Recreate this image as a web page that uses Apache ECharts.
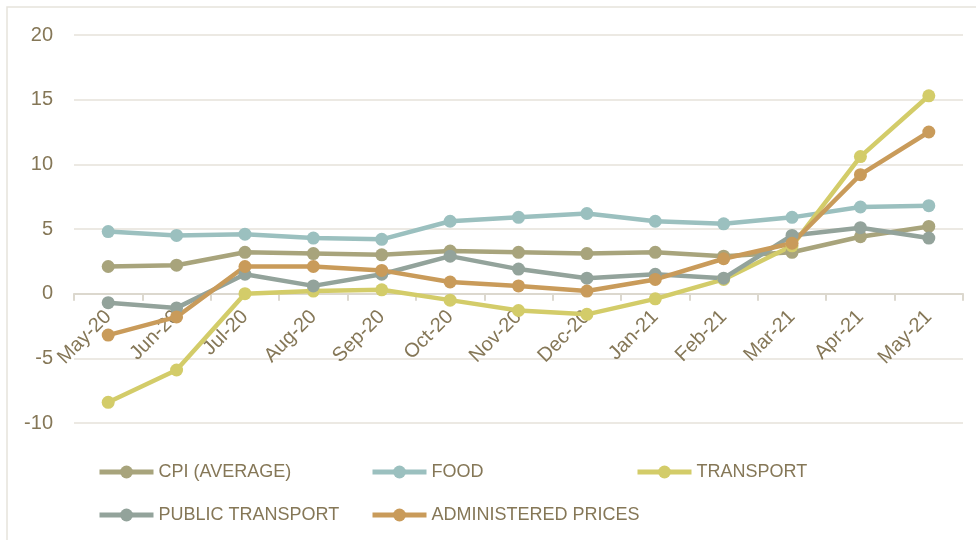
<!DOCTYPE html>
<html>
<head>
<meta charset="utf-8">
<script src="https://cdn.jsdelivr.net/npm/echarts@6/dist/echarts.min.js"></script>
<style>
  html, body { margin: 0; padding: 0; background: #fff; }
  #chart { width: 976px; height: 540px; }
</style>
</head>
<body>
<div id="chart"></div>
<script>
const MONTHS = ['May-20', 'Jun-20', 'Jul-20', 'Aug-20', 'Sep-20', 'Oct-20', 'Nov-20',
    'Dec-20', 'Jan-21', 'Feb-21', 'Mar-21', 'Apr-21', 'May-21']

const CPI_AVG = [2.1, 2.2, 3.2, 3.1, 3.0, 3.3, 3.2, 3.1, 3.2, 2.9, 3.2, 4.4, 5.2]
const FOOD = [4.8, 4.5, 4.6, 4.3, 4.2, 5.6, 5.9, 6.2, 5.6, 5.4, 5.9, 6.7, 6.8]
const TRANSPORT = [-8.4, -5.9, 0.0, 0.2, 0.3, -0.5, -1.3, -1.6, -0.4, 1.1, 3.7, 10.6, 15.3]
const PUBLIC_TRANSPORT = [-0.7, -1.1, 1.5, 0.6, 1.5, 2.9, 1.9, 1.2, 1.5, 1.2, 4.5, 5.1, 4.3]
const ADMIN_PRICES = [-3.2, -1.8, 2.1, 2.1, 1.8, 0.9, 0.6, 0.2, 1.1, 2.7, 3.9, 9.2, 12.5]

const Y_TICKS = [-10, -5, 0, 5, 10, 15, 20]

const TEXT_COLOR = '#857757'
const FONT = '"Liberation Sans", sans-serif'

// name, values, colour, legend position
const SERIES_DEF = [
    ['CPI (AVERAGE)', CPI_AVG, '#a8a47c', 97, 463],
    ['FOOD', FOOD, '#9bc0bf', 370, 463],
    ['TRANSPORT', TRANSPORT, '#d3cc69', 635, 463],
    ['PUBLIC TRANSPORT', PUBLIC_TRANSPORT, '#93a39b', 97, 506],
    ['ADMINISTERED PRICES', ADMIN_PRICES, '#c99b5a', 370, 506]
]

const GRID_TOP = 35
const GRID_BOTTOM = 117
const PLOT_H = 540 - GRID_TOP - GRID_BOTTOM
// x axis sits on the zero line
const ZERO_OFFSET = -PLOT_H * (0 - Y_TICKS[0]) / (Y_TICKS[Y_TICKS.length - 1] - Y_TICKS[0])

let chart = echarts.init(document.getElementById('chart'), null, { renderer: 'canvas' })

let legends = SERIES_DEF.map(d => ({
    data: [d[0]],
    left: d[3],
    top: d[4],
    padding: 0,
    itemWidth: 54,
    itemHeight: 16,
    lineStyle: { width: 5 },
    textStyle: { color: TEXT_COLOR, fontSize: 18, fontFamily: FONT }
}))

let series = SERIES_DEF.map(d => ({
    name: d[0],
    type: 'line',
    data: d[1],
    symbol: 'circle',
    symbolSize: 13,
    lineStyle: { width: 4.5, color: d[2] },
    itemStyle: { color: d[2] },
    emphasis: { disabled: true }
}))

chart.setOption({
    animation: false,
    textStyle: { fontFamily: FONT },
    graphic: [{
        type: 'rect',
        shape: { x: 7, y: 7, width: 1000, height: 600 },
        style: { fill: 'none', stroke: '#e6e3dc', lineWidth: 1.5 },
        silent: true
    }],
    grid: { left: 74, right: 13, top: GRID_TOP, bottom: GRID_BOTTOM },
    legend: legends,
    xAxis: {
        type: 'category',
        data: MONTHS,
        boundaryGap: true,
        offset: ZERO_OFFSET,
        axisLine: { onZero: false, lineStyle: { color: '#dcd8ce', width: 2 } },
        axisTick: { show: true, length: 7, lineStyle: { color: '#dcd8ce', width: 2 } },
        axisLabel: {
            interval: 0, rotate: 45, margin: 20,
            color: TEXT_COLOR, fontSize: 20, fontFamily: FONT
        },
        splitLine: { show: false }
    },
    yAxis: {
        type: 'value',
        min: Y_TICKS[0],
        max: Y_TICKS[Y_TICKS.length - 1],
        interval: 5,
        axisLine: { show: false },
        axisTick: { show: false },
        axisLabel: { margin: 21, color: TEXT_COLOR, fontSize: 20, fontFamily: FONT },
        splitLine: { lineStyle: { color: '#e6e2da', width: 1.5 } }
    },
    series: series
})
</script>
</body>
</html>
